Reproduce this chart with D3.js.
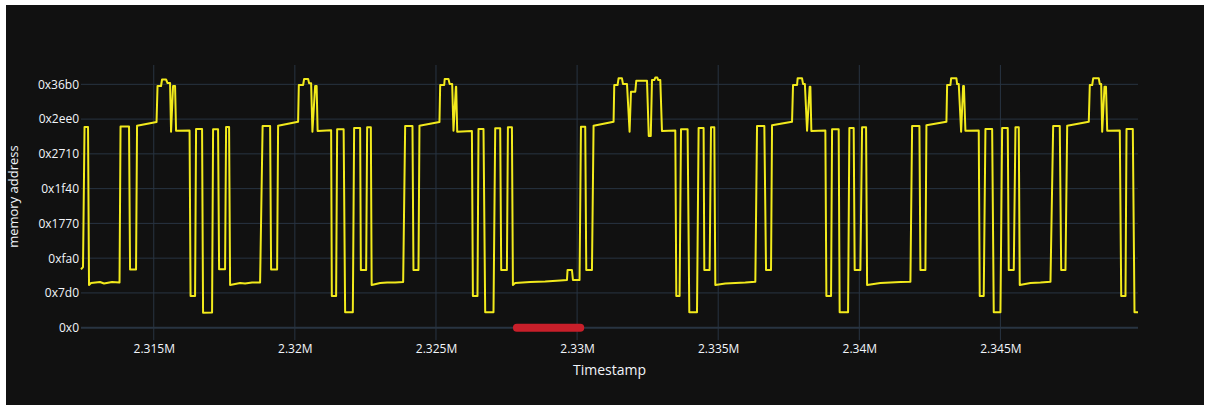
<!DOCTYPE html>
<html>
<head>
<meta charset="utf-8">
<script src="https://cdn.jsdelivr.net/npm/d3@7"></script>
<style>
  html, body { margin: 0; padding: 0; background: #ffffff; }
  svg { display: block; }
  text { font-family: "Open Sans", "Noto Sans", sans-serif; }
</style>
</head>
<body>
<svg id="chart" width="1205" height="406"></svg>
<script>
// Memory access trace: address touched at each timestamp
const timestamps = [
  2312422, 2312493, 2312547, 2312671, 2312706, 2312777, 2313096, 2313238, 2313521, 2313787,
  2313823, 2314124, 2314160, 2314372, 2314408, 2315099, 2315134, 2315258, 2315294, 2315436,
  2315489, 2315578, 2315613, 2315684, 2315755, 2315790, 2316269, 2316304, 2316464, 2316499,
  2316712, 2316747, 2317066, 2317102, 2317279, 2317315, 2317527, 2317563, 2317669, 2317705,
  2318059, 2318236, 2318484, 2318768, 2318857, 2319123, 2319158, 2319371, 2319406, 2320115,
  // 2.320M – 2.325M
  2320140, 2320292, 2320328, 2320470, 2320505, 2320576, 2320622, 2320718, 2320771, 2320806,
  2321285, 2321310, 2321462, 2321498, 2321728, 2321781, 2322054, 2322100, 2322313, 2322338,
  2322526, 2322561, 2322692, 2322721, 2323022, 2323270, 2323554, 2323837, 2323908, 2324167,
  2324202, 2324380, 2324415, 2325124,
  // 2.325M – 2.331M
  2325149, 2325291, 2325309, 2325443, 2325486, 2325574, 2325620, 2325706, 2325716, 2325752,
  2326273, 2326308, 2326471, 2326507, 2326684, 2326744, 2327038, 2327099, 2327276, 2327311,
  2327513, 2327549, 2327691, 2327726, 2327808, 2328340, 2328871, 2329403, 2329641, 2329662,
  2329818, 2329853, 2330087, 2330137, 2330289, 2330325, 2330527, 2330584, 2331293,
  // 2.331M – 2.337M
  2331317, 2331434, 2331470, 2331590, 2331626, 2331768, 2331860, 2331909, 2332062, 2332097,
  2332477, 2332540, 2332611, 2332654, 2332735, 2332771, 2332842, 2332877, 2332948, 2333008,
  2333480, 2333515, 2333632, 2333682, 2333916, 2333976, 2334249, 2334306, 2334483, 2334508,
  2334696, 2334745, 2334862, 2334898, 2335252, 2335607, 2335961, 2336316, 2336376, 2336635,
  2336695, 2336872, 2336908, 2337617,
  // 2.337M – 2.343M
  2337652, 2337794, 2337815, 2337971, 2338007, 2338071, 2338149, 2338241, 2338266, 2338301,
  2338797, 2338833, 2338999, 2339035, 2339269, 2339304, 2339602, 2339648, 2339801, 2339836,
  2340038, 2340098, 2340240, 2340276, 2340747, 2341102, 2341456, 2341811, 2341871, 2342130,
  2342165, 2342342, 2342378, 2343087,
  // 2.343M – 2.348M
  2343112, 2343229, 2343253, 2343441, 2343466, 2343523, 2343608, 2343679, 2343707, 2343760,
  2344232, 2344267, 2344409, 2344469, 2344707, 2344764, 2345001, 2345061, 2345260, 2345295,
  2345473, 2345533, 2345650, 2345685, 2346065, 2346419, 2346774, 2346869, 2347103, 2347153,
  2347305, 2347366, 2348131,
  // 2.348M – end
  2348167, 2348252, 2348287, 2348486, 2348521, 2348571, 2348606, 2348688, 2348741, 2348784,
  2349230, 2349280, 2349432, 2349468, 2349691, 2349751, 2349875
];

const addresses = [
  3359, 3491, 11544, 11544, 2456, 2571, 2629, 2542, 2629, 2600,
  11573, 11573, 3348, 3348, 11619, 11832, 13903, 13903, 14277, 14277,
  14075, 14075, 11274, 13903, 13903, 11331, 11343, 1823, 1823, 11429,
  11429, 863, 874, 11412, 11412, 3359, 3359, 11544, 11544, 2456,
  2571, 2542, 2600, 2600, 11602, 11602, 3348, 3348, 11619, 11849,
  // 2.320M – 2.325M
  13960, 13960, 14305, 14305, 14058, 14058, 11274, 13903, 13903, 11314,
  11354, 1823, 1823, 11412, 11412, 886, 886, 11487, 11487, 3319,
  3319, 11527, 11527, 2456, 2571, 2600, 2600, 2629, 11602, 11602,
  3319, 3319, 11619, 11832,
  // 2.325M – 2.331M
  13960, 13960, 14305, 14305, 14018, 14018, 11331, 13862, 13862, 11274,
  11314, 1823, 1823, 11429, 11429, 886, 886, 11469, 11469, 3319,
  3319, 11527, 11527, 2456, 2571, 2629, 2657, 2715, 2744, 3319,
  3319, 2744, 2744, 11562, 11562, 3319, 3319, 11619, 11849,
  // 2.331M – 2.337M
  13960, 13960, 14345, 14345, 14018, 14018, 11274, 13575, 13575, 14207,
  14207, 11027, 11027, 14248, 14248, 14392, 14392, 14248, 14248, 11314,
  11343, 1823, 1823, 11412, 11412, 886, 886, 11487, 11487, 3319,
  3319, 11527, 11527, 2456, 2542, 2571, 2600, 2646, 11602, 11602,
  3319, 3319, 11642, 11849,
  // 2.337M – 2.343M
  13960, 13960, 14345, 14345, 14018, 14018, 11331, 13862, 13862, 11314,
  11343, 1823, 1823, 11412, 11412, 886, 886, 11487, 11487, 3319,
  3319, 11527, 11527, 2456, 2571, 2600, 2629, 2646, 11602, 11602,
  3319, 3319, 11642, 11849,
  // 2.343M – 2.348M
  13960, 13960, 14345, 14345, 14018, 14018, 11274, 13903, 13903, 11331,
  11343, 1823, 1823, 11429, 11429, 886, 886, 11487, 11487, 3319,
  3319, 11527, 11527, 2456, 2571, 2600, 2646, 11602, 11602, 3319,
  3319, 11619, 11849,
  // 2.348M – end
  13960, 13960, 14345, 14345, 14018, 14018, 11274, 13862, 13862, 11331,
  11343, 1823, 1823, 11429, 11429, 886, 886
];

// Highlighted interval drawn on the zero line
const markerTimestamps = [2327868, 2330112];
const markerAddresses = [0, 0];

// Axis ticks
const xTickValues = [2315000, 2320000, 2325000, 2330000, 2335000, 2340000, 2345000];
const xTickLabels = ["2.315M", "2.32M", "2.325M", "2.33M", "2.335M", "2.34M", "2.345M"];
const yTickValues = [0, 2000, 4000, 6000, 8000, 10000, 12000, 14000];
const yTickLabels = ["0x0", "0x7d0", "0xfa0", "0x1770", "0x1f40", "0x2710", "0x2ee0", "0x36b0"];

const xTitle = "Timestamp";
const yTitle = "memory address";

const svg = d3.select("#chart");
const W = 1205, H = 406;

// page frame and dark figure background
svg.append("rect").attr("width", W).attr("height", H).attr("fill", "#ffffff");
svg.append("rect").attr("x", 6).attr("y", 5).attr("width", W - 7).attr("height", H - 6).attr("fill", "#111111");

const plot = { left: 81, right: 1138, top: 65, bottom: 340.2 };

const trace = timestamps.map((t, i) => ({ t, v: addresses[i] }));
const marker = markerTimestamps.map((t, i) => ({ t, v: markerAddresses[i] }));

// x spans the data exactly; y gets 5% padding on both sides
const x = d3.scaleLinear()
  .domain(d3.extent(timestamps.concat(markerTimestamps)))
  .range([plot.left, plot.right]);

const allV = addresses.concat(markerAddresses);
const vMin = d3.min(allV), vMax = d3.max(allV);
const pad = (vMax - vMin) * 0.05;
const y = d3.scaleLinear()
  .domain([vMin - pad, vMax + pad])
  .range([plot.bottom, plot.top]);

const gridColor = "#283442";
const textColor = "#f2f5fa";

// grid lines
const grid = svg.append("g");
grid.selectAll("line.vx").data(xTickValues).join("line")
  .attr("x1", d => x(d)).attr("x2", d => x(d))
  .attr("y1", plot.top).attr("y2", plot.bottom)
  .attr("stroke", gridColor).attr("stroke-width", 1);
grid.selectAll("line.hy").data(yTickValues.filter(d => d !== 0)).join("line")
  .attr("x1", plot.left).attr("x2", plot.right)
  .attr("y1", d => y(d)).attr("y2", d => y(d))
  .attr("stroke", gridColor).attr("stroke-width", 1);
// zero line
grid.append("line")
  .attr("x1", plot.left).attr("x2", plot.right)
  .attr("y1", y(0)).attr("y2", y(0))
  .attr("stroke", gridColor).attr("stroke-width", 2);

// x axis
const xAxis = svg.append("g")
  .attr("transform", `translate(0,${plot.bottom - 2})`)
  .call(d3.axisBottom(x).tickValues(xTickValues)
    .tickFormat((d, i) => xTickLabels[i]).tickSize(0).tickPadding(6));
xAxis.select(".domain").remove();
xAxis.selectAll("text")
  .attr("fill", textColor).attr("font-size", 12)
  .attr("font-family", "'Open Sans', sans-serif");

// y axis
const yAxis = svg.append("g")
  .attr("transform", `translate(${plot.left - 2},0)`)
  .call(d3.axisLeft(y).tickValues(yTickValues)
    .tickFormat((d, i) => yTickLabels[i]).tickSize(0).tickPadding(0));
yAxis.select(".domain").remove();
yAxis.selectAll("text")
  .attr("fill", textColor).attr("font-size", 12)
  .attr("font-family", "'Open Sans', sans-serif");

// axis titles
svg.append("text")
  .attr("x", (plot.left + plot.right) / 2).attr("y", 375)
  .attr("text-anchor", "middle").attr("fill", textColor)
  .attr("font-size", 14).text(xTitle);
svg.append("text")
  .attr("transform", `translate(18,${(plot.top + plot.bottom) / 2 - 6}) rotate(-90)`)
  .attr("text-anchor", "middle").attr("fill", textColor)
  .attr("font-size", 13).text(yTitle);

// data
svg.append("clipPath").attr("id", "plot-clip")
  .append("rect")
  .attr("x", plot.left - 6).attr("y", plot.top - 6)
  .attr("width", plot.right - plot.left + 12).attr("height", plot.bottom - plot.top + 12);

const line = d3.line().x(d => x(d.t)).y(d => y(d.v));
const series = svg.append("g").attr("clip-path", "url(#plot-clip)");

series.append("path")
  .datum(trace)
  .attr("d", line)
  .attr("fill", "none")
  .attr("stroke", "#f2ea1c")
  .attr("stroke-width", 2)
  .attr("stroke-linejoin", "round");

series.append("path")
  .datum(marker)
  .attr("d", line)
  .attr("fill", "none")
  .attr("stroke", "#c81f2a")
  .attr("stroke-width", 8)
  .attr("stroke-linecap", "round");
</script>
</body>
</html>
